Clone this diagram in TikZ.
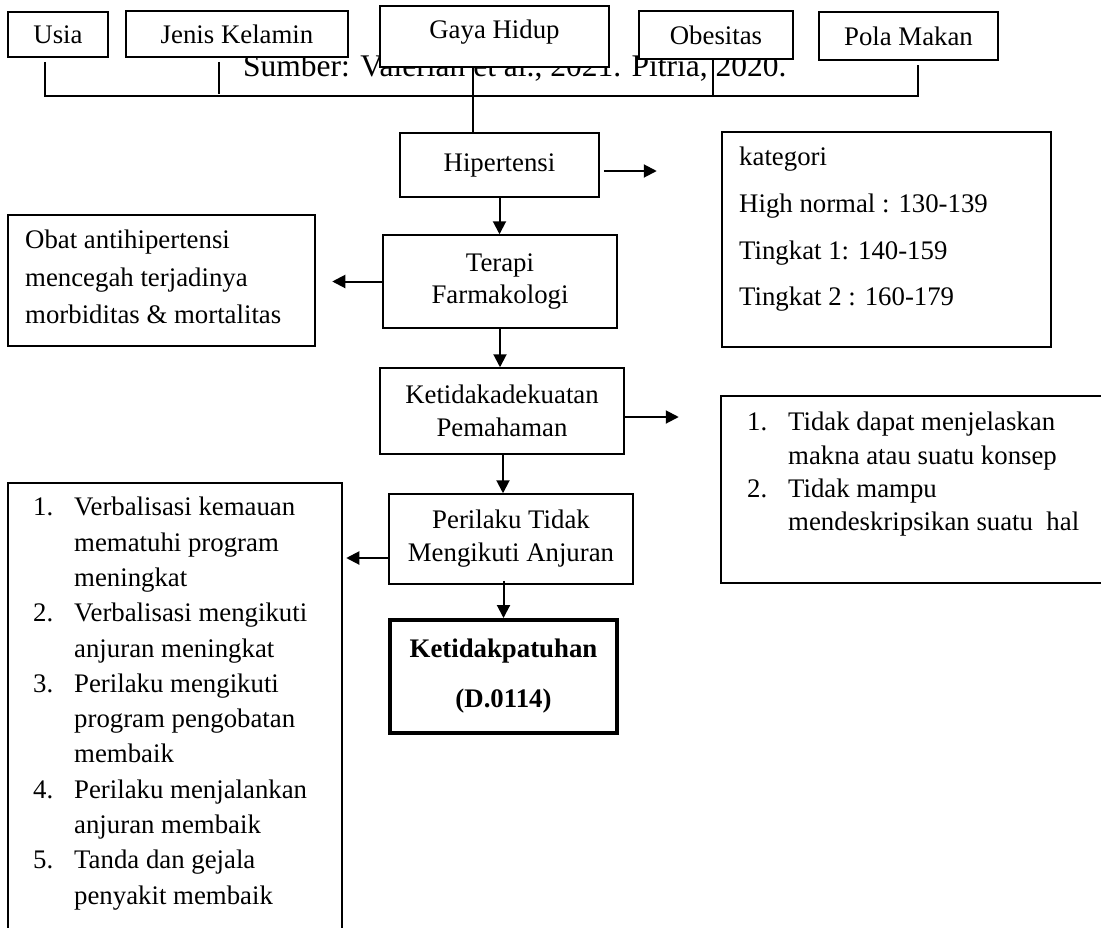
\documentclass[tikz,border=0pt]{standalone}
\usepackage{fontspec}
\setmainfont{Liberation Serif}
\usepackage{tikz}
\usetikzlibrary{arrows.meta, calc, positioning}

\newcommand{\listno}[1]{\makebox[41pt][l]{#1}}
\newcommand{\listind}{\hspace*{41pt}}

\tikzset{
  box/.style={draw=black, line width=1.5pt, fill=white, inner sep=0pt, align=center,
    font=\fontsize{26.8}{33}\selectfont},
  toprow/.style={box, text height=18.3pt, text depth=0pt},
  txt/.style={inner sep=0pt, align=left, anchor=north west},
  arr/.style={line width=2pt, -{Triangle[length=13pt,width=13pt]}},
  bus/.style={line width=1.8pt},
}

\begin{document}
\begin{tikzpicture}[x=1pt, y=-1pt]

  \useasboundingbox (0,0) rectangle (1101,927);
  % \draw[gray!30] (0,0) grid[step=50] (1101,927);

  \node[anchor=base west, inner sep=0pt, font=\fontsize{31.5}{38}\selectfont] (sumber) at (243,76) {Sumber: Valerian et al., 2021. Pitria, 2020.};

  \node[toprow, minimum width=100pt, minimum height=45pt] (usia) at (58,34.5) {Usia};
  \node[toprow, minimum width=222pt, minimum height=46pt] (jenis) at (237,34) {Jenis Kelamin};
  \node[toprow, minimum width=229pt, minimum height=61pt, text depth=15pt] (gaya) at (494.5,36.5) {Gaya Hidup};
  \node[toprow, minimum width=154pt, minimum height=48pt] (obes) at (716,35) {Obesitas};
  \node[toprow, minimum width=179pt, minimum height=48pt] (pola) at (908.5,36) {Pola Makan};

  \node[box, minimum width=199pt, minimum height=64pt] (hiper) at (499.5,165) {Hipertensi};
  \node[box, minimum width=234pt, minimum height=93pt, font=\fontsize{26.8}{32}\selectfont] (terapi) at (500,281.5) {Terapi\\Farmakologi};
  \node[box, minimum width=244pt, minimum height=86pt] (ketid) at (502,411) {Ketidakadekuatan\\Pemahaman};
  \node[box, minimum width=244pt, minimum height=90pt] (perilaku) at (511,539) {Perilaku Tidak\\Mengikuti Anjuran};
  \node[box, line width=4pt, minimum width=227pt, minimum height=113pt, font=\bfseries\fontsize{26.8}{50}\selectfont] (patuh) at (503.5,676.5) {Ketidakpatuhan\\(D.0114)};

  \node[box, minimum width=307pt, minimum height=131pt] (obat) at (161.5,280.5) {};
  \node[txt, font=\fontsize{26.8}{37.5}\selectfont] (obatT) at (25,230) {Obat antihipertensi\\mencegah terjadinya\\morbiditas \& mortalitas};

  \node[box, minimum width=329pt, minimum height=215pt] (kat) at (886.5,239.5) {};
  \node[txt, font=\fontsize{26.8}{46.7}\selectfont] (katT) at (739,147) {kategori\\High normal : 130-139\\Tingkat 1: 140-159\\Tingkat 2 : 160-179};

  \node[box, minimum width=385pt, minimum height=187pt] (paham) at (913.5,489.5) {};
  \node[txt, font=\fontsize{26.8}{33.3}\selectfont] (pahamT) at (747,412) {\listno{1.}Tidak dapat menjelaskan\\\listind makna atau suatu konsep\\\listno{2.}Tidak mampu\\\listind mendeskripsikan suatu\ \ hal};

  \node[box, minimum width=334pt, minimum height=452pt] (luaran) at (175,709) {};
  \node[txt, font=\fontsize{26.8}{35.3}\selectfont] (luaranT) at (33,497) {\listno{1.}Verbalisasi kemauan\\\listind mematuhi program\\\listind meningkat\\\listno{2.}Verbalisasi mengikuti\\\listind anjuran meningkat\\\listno{3.}Perilaku mengikuti\\\listind program pengobatan\\\listind membaik\\\listno{4.}Perilaku menjalankan\\\listind anjuran membaik\\\listno{5.}Tanda dan gejala\\\listind penyakit membaik};

  % top row into Hipertensi
  \coordinate (busL) at (45,96);
  \coordinate (busR) at (918,96);
  \draw[bus] ([yshift=-4pt]usia.south -| busL) -- (busL) -- (busR) -- ([yshift=-4pt]pola.south -| busR);
  \draw[bus] ([xshift=-18pt,yshift=-4pt]jenis.south) -- ++(0,32);
  \draw[bus] ([xshift=-3pt]obes.south) -- ([xshift=-3pt]obes.south |- busR);
  \draw[bus] ([xshift=-21.5pt]gaya.south) -- ([xshift=-21.5pt]gaya.south |- hiper.north);

  \draw[arr] ([xshift=4pt,yshift=-6pt]hiper.east) -- ++(53,0);
  \draw[arr] (hiper.south) -- (hiper.south |- terapi.north);
  \draw[arr] (terapi.west) -- ++(-50,0);
  \draw[arr] (terapi.south) -- (terapi.south |- ketid.north);
  \draw[arr] ([yshift=-6pt]ketid.east) -- ++(54,0);
  \draw[arr] ([xshift=1pt]ketid.south) -- ([xshift=1pt]ketid.south |- perilaku.north);
  \draw[arr] ([yshift=-19pt]perilaku.west) -- ++(-42,0);
  \draw[arr] ([yshift=4pt]perilaku.south -| patuh.north) -- (patuh.north);

\end{tikzpicture}
\end{document}
